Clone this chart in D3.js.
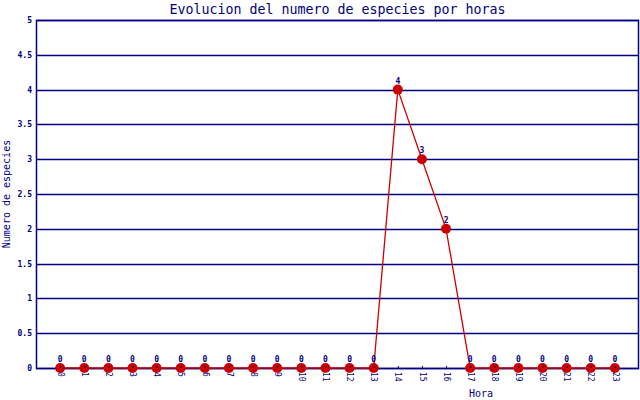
<!DOCTYPE html>
<html>
<head>
<meta charset="utf-8">
<script src="https://cdn.jsdelivr.net/npm/d3@7"></script>
<style>
  body { margin: 0; background: #fff; }
  text { font-family: "DejaVu Sans Mono", monospace; fill: #000080; }
</style>
</head>
<body>
<div id="chart"></div>
<script>
  var horas = d3.range(0, 24);
  var especies = [0, 0, 0, 0, 0, 0, 0, 0, 0, 0, 0, 0, 0, 0, 4, 3, 2, 0, 0, 0, 0, 0, 0, 0];
  var yTicks = [0, 0.5, 1, 1.5, 2, 2.5, 3, 3.5, 4, 4.5, 5];

  var outerWidth = 640, outerHeight = 400;
  var margin = {top: 20, right: 1, bottom: 32, left: 36};
  var width = outerWidth - margin.left - margin.right,
      height = outerHeight - margin.top - margin.bottom;

  var navy = "#000080", red = "#cc0000";

  var svg = d3.select("#chart").append("svg")
      .attr("width", outerWidth)
      .attr("height", outerHeight)
    .append("g")
      .attr("transform", "translate(" + margin.left + "," + margin.top + ")");

  var x = d3.scalePoint()
      .domain(horas)
      .range([0, width])
      .padding(1);

  var y = d3.scaleLinear()
      .domain([0, 5])
      .range([height, 0]);

  // horizontal grid
  svg.append("g")
    .selectAll("line")
    .data(yTicks)
    .enter().append("line")
      .attr("x1", 0)
      .attr("x2", width)
      .attr("y1", d => Math.round(y(d)) + 0.5)
      .attr("y2", d => Math.round(y(d)) + 0.5)
      .attr("stroke", navy)
      .attr("stroke-width", 1.5);

  // frame
  svg.append("rect")
      .attr("x", 0.5)
      .attr("y", 0.5)
      .attr("width", width - 1)
      .attr("height", height)
      .attr("fill", "none")
      .attr("stroke", navy)
      .attr("stroke-width", 1.5);

  // y axis labels
  var yAxis = d3.axisLeft(y)
      .tickValues(yTicks)
      .tickSize(0)
      .tickPadding(4)
      .tickFormat(d3.format("~g"));

  svg.append("g")
      .call(yAxis)
      .call(g => g.select(".domain").remove())
      .selectAll("text")
        .style("font", "bold 8px 'DejaVu Sans Mono', monospace")
        .attr("fill", navy);

  // x axis labels
  var xAxis = d3.axisBottom(x)
      .tickSize(2)
      .tickPadding(0)
      .tickFormat(d => d);

  var xg = svg.append("g")
      .attr("transform", "translate(0," + height + ")")
      .call(xAxis)
      .call(g => g.select(".domain").remove());

  xg.selectAll(".tick line")
      .attr("y2", -2)
      .attr("stroke", navy);

  // line
  var line = d3.line()
      .x((d, i) => x(horas[i]))
      .y(d => y(d));

  svg.append("path")
      .datum(especies)
      .attr("d", line)
      .attr("fill", "none")
      .attr("stroke", red)
      .attr("stroke-width", 1.3);

  // points
  svg.append("g")
    .selectAll("circle")
    .data(especies)
    .enter().append("circle")
      .attr("cx", (d, i) => x(horas[i]))
      .attr("cy", d => y(d))
      .attr("r", 5)
      .attr("fill", red);

  // x labels drawn after points so they stay readable
  xg.raise();
  xg.selectAll("text")
      .attr("transform", "rotate(90)")
      .attr("x", 4)
      .attr("y", 0)
      .attr("dy", "0.35em")
      .style("text-anchor", "start")
      .style("font", "8px 'DejaVu Sans Mono', monospace")
      .attr("fill", navy);

  // value labels
  svg.append("g")
    .selectAll("text")
    .data(especies)
    .enter().append("text")
      .attr("x", (d, i) => x(horas[i]))
      .attr("y", d => y(d) - 6)
      .attr("text-anchor", "middle")
      .style("font", "bold 8px 'DejaVu Sans Mono', monospace")
      .text(d => d);

  // title
  svg.append("text")
      .attr("x", width / 2)
      .attr("y", -6)
      .attr("text-anchor", "middle")
      .style("font-size", "13.3px")
      .text("Evolucion del numero de especies por horas");

  // axis titles
  svg.append("text")
      .attr("x", 445)
      .attr("y", height + 29)
      .attr("text-anchor", "middle")
      .style("font-size", "10px")
      .text("Hora");

  svg.append("text")
      .attr("transform", "translate(" + (-26) + "," + (height / 2) + ") rotate(-90)")
      .attr("text-anchor", "middle")
      .style("font-size", "10px")
      .text("Numero de especies");
</script>
</body>
</html>
